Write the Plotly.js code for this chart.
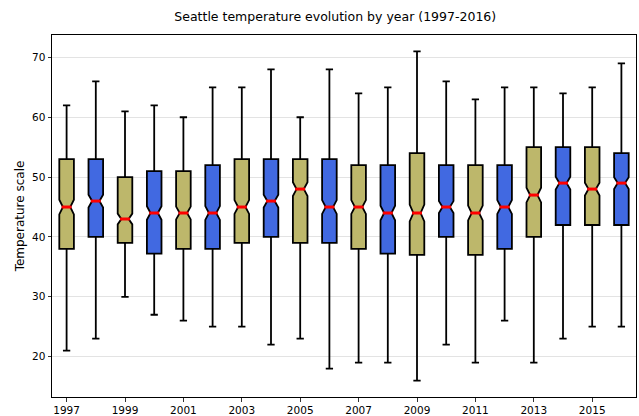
<!DOCTYPE html>
<html>
<head>
<meta charset="utf-8">
<script src="https://cdn.plot.ly/plotly-3.0.1.min.js"></script>
<style>html,body{margin:0;padding:0;background:#fff;}#chart{width:639px;height:416px;}</style>
</head>
<body>
<div id="chart"></div>
<script>
var years      = [1997,1998,1999,2000,2001,2002,2003,2004,2005,2006,2007,2008,2009,2010,2011,2012,2013,2014,2015,2016];
var lowWhisker = [21,23,30,27,26,25,25,22,23,18,19,19,16,22,19,26,19,23,25,25];
var q1Values   = [38,40,39,37.2,38,38,39,40,39,39,38,37.2,37,40,37,38,40,42,42,42];
var medians    = [45,46,43,44,44,44,45,46,48,45,45,44,44,45,44,45,47,49,48,49];
var q3Values   = [53,53,50,51,51,52,53,53,53,53,52,52,54,52,52,52,55,55,55,54];
var highWhisker= [62,66,61,62,60,65,65,68,60,68,64,65,71,66,63,65,65,64,65,69];
var notchSpans = [1.23,1.07,0.90,1.13,1.07,1.15,1.15,1.07,1.15,1.15,1.15,1.22,1.40,0.99,1.23,1.15,1.23,1.07,1.07,0.99];
var tickYears  = [1997,1999,2001,2003,2005,2007,2009,2011,2013,2015];

var BOX_W = 0.5;
var colors = ['#BDB76B', '#4169E1'];

function pick(arr, parity) {
  return arr.filter(function (_, i) { return i % 2 === parity; });
}

var traces = [];
[0, 1].forEach(function (p) {
  traces.push({
    type: 'box',
    x: pick(years, p),
    q1: pick(q1Values, p),
    median: pick(medians, p),
    q3: pick(q3Values, p),
    lowerfence: pick(lowWhisker, p),
    upperfence: pick(highWhisker, p),
    notchspan: pick(notchSpans, p),
    notched: true,
    notchwidth: 0.25,
    whiskerwidth: 0.5,
    width: BOX_W,
    fillcolor: colors[p],
    line: {color: '#000000', width: 1.8},
    boxpoints: false,
    hoverinfo: 'skip',
    showlegend: false
  });
});

// red median segments
var mx = [], my = [];
var half = BOX_W * 0.25 + 0.045;
years.forEach(function (yr, i) {
  mx.push(yr - half, yr + half, null);
  my.push(medians[i], medians[i], null);
});
traces.push({
  type: 'scatter', mode: 'lines', x: mx, y: my,
  line: {color: '#FF0000', width: 3},
  hoverinfo: 'skip', showlegend: false
});

var font = {family: 'DejaVu Sans, sans-serif', color: '#000', size: 10.5};

var layout = {
  width: 639, height: 416,
  margin: {l: 52, r: 3, t: 35, b: 19, pad: 0},
  paper_bgcolor: '#ffffff', plot_bgcolor: '#ffffff',
  font: font,
  boxmode: 'overlay',
  showlegend: false,
  title: {
    text: 'Seattle temperature evolution by year (1997-2016)',
    font: {family: 'DejaVu Sans, sans-serif', size: 12.5, color: '#000'},
    xref: 'paper', x: 0.485, xanchor: 'center',
    yref: 'container', y: 0.959, yanchor: 'middle'
  },
  xaxis: {
    type: 'linear',
    range: [1996.5, 2016.5],
    tickmode: 'array', tickvals: tickYears, ticktext: tickYears.map(String),
    ticks: 'outside', ticklen: 3.5, tickwidth: 0.8, tickcolor: '#000',
    showgrid: false, zeroline: false,
    showline: true, linecolor: '#000', linewidth: 1, mirror: true,
    tickfont: font, automargin: false
  },
  yaxis: {
    range: [13.25, 73.75],
    tickmode: 'linear', tick0: 0, dtick: 10,
    ticks: 'outside', ticklen: 3.5, tickwidth: 0.8, tickcolor: '#000',
    showgrid: true, gridcolor: '#dcdcdc', gridwidth: 0.8,
    zeroline: false,
    showline: true, linecolor: '#000', linewidth: 1, mirror: true,
    tickfont: font, automargin: false,
    title: {text: 'Temperature scale', font: {family: 'DejaVu Sans, sans-serif', size: 12, color: '#000'}, standoff: 4}
  }
};

Plotly.newPlot('chart', traces, layout, {displayModeBar: false, staticPlot: true});
</script>
</body>
</html>
